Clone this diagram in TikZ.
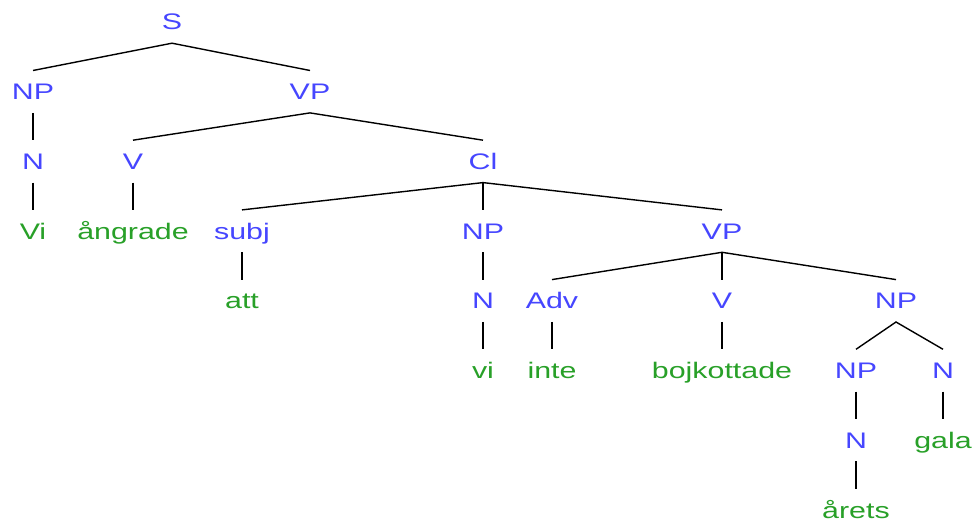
\documentclass[tikz,border=0pt]{standalone}
\usepackage{fontspec}
\newfontfamily\treefont{Liberation Sans}[FakeStretch=1.35]
\definecolor{catblue}{RGB}{70, 70, 255}
\definecolor{wordgreen}{RGB}{40, 160, 40}
\usetikzlibrary{positioning}

\begin{document}
\begin{tikzpicture}[x=1pt, y=-1pt,
  lbl/.style={font=\treefont\fontsize{22.5}{26}\selectfont, text height=18pt, text depth=2pt, inner xsep=2pt, inner ysep=11pt},
  cat/.style={lbl, text=catblue},
  word/.style={lbl, text=wordgreen},
  branch/.style={line width=1.4pt, black}]
  \useasboundingbox (0,0) rectangle (972,526);

  % categories
  \node[cat] (s) at (172, 22) {S};
  \node[cat] (np1) at (33, 91.7) {NP};
  \node[cat] (vp1) at (310, 91.7) {VP};
  \node[cat] (n1) at (33, 161.4) {N};
  \node[cat] (v1) at (133, 161.4) {V};
  \node[cat] (cl) at (483, 161.4) {Cl};
  \node[cat] (subj) at (242, 231.1) {subj};
  \node[cat] (np2) at (483, 231.1) {NP};
  \node[cat] (vp2) at (722, 231.1) {VP};
  \node[cat] (n2) at (483, 300.8) {N};
  \node[cat] (adv) at (552, 300.8) {Adv};
  \node[cat] (v2) at (722, 300.8) {V};
  \node[cat] (np3) at (896, 300.8) {NP};
  \node[cat] (np4) at (856, 370.5) {NP};
  \node[cat] (n3) at (943, 370.5) {N};
  \node[cat] (n4) at (856, 440.2) {N};

  % words
  \node[word] (vi1) at (33, 231.1) {Vi};
  \node[word] (angrade) at (133, 231.1) {ångrade};
  \node[word] (att) at (242, 300.8) {att};
  \node[word] (vi2) at (483, 370.5) {vi};
  \node[word] (inte) at (552, 370.5) {inte};
  \node[word] (bojk) at (722, 370.5) {bojkottade};
  \node[word] (gala) at (943, 440.2) {gala};
  \node[word] (arets) at (856, 510) {årets};

  % branches
  \draw[branch] (np1.north) -- (s.south) -- (vp1.north);
  \draw[branch] (np1.south) -- (n1.north);
  \draw[branch] (n1.south) -- (vi1.north);
  \draw[branch] (v1.north) -- (vp1.south) -- (cl.north);
  \draw[branch] (v1.south) -- (angrade.north);
  \draw[branch] (subj.north) -- (cl.south) -- (vp2.north);
  \draw[branch] (cl.south) -- (np2.north);
  \draw[branch] (subj.south) -- (att.north);
  \draw[branch] (np2.south) -- (n2.north);
  \draw[branch] (n2.south) -- (vi2.north);
  \draw[branch] (adv.north) -- (vp2.south) -- (np3.north);
  \draw[branch] (vp2.south) -- (v2.north);
  \draw[branch] (adv.south) -- (inte.north);
  \draw[branch] (v2.south) -- (bojk.north);
  \draw[branch] (np4.north) -- (np3.south) -- (n3.north);
  \draw[branch] (np4.south) -- (n4.north);
  \draw[branch] (n4.south) -- (arets.north);
  \draw[branch] (n3.south) -- (gala.north);
\end{tikzpicture}
\end{document}
